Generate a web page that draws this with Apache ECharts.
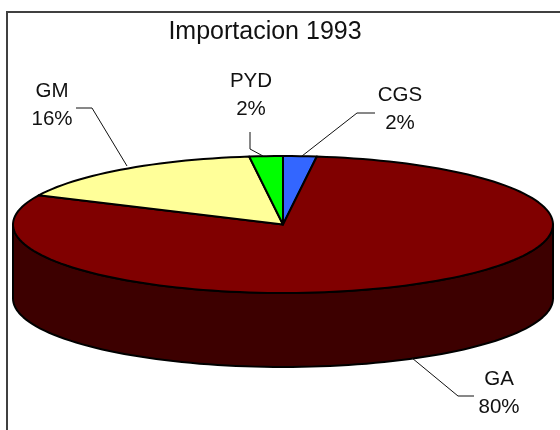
<!DOCTYPE html>
<html>
<head>
<meta charset="utf-8">
<style>html,body{margin:0;padding:0;background:#fff}#c{width:560px;height:430px}</style>
<script src="https://cdn.jsdelivr.net/npm/echarts@6/dist/echarts.min.js"></script>
</head>
<body>
<div id="c"></div>
<script>
const chartTitle = 'Importacion 1993';
const categories = ['CGS', 'GA', 'GM', 'PYD'];
const shares = [2, 80, 16, 2];

const sliceColors = ['#3366FF', '#800000', '#FFFF99', '#00FF00'];
const wallColors = ['#1A3380', '#3D0000', '#808050', '#008000'];
const labelCenters = [[400, 109.5], [499, 393], [52, 105], [251, 95.5]];
const leaderPaths = [
  [[375, 113], [357, 113], [302, 156]],
  [[474, 396], [458, 396], [412, 358]],
  [[76, 108], [92, 108], [127, 166]],
  [[250, 132], [250, 149], [263, 156]]
];
const disc = { cx: 283, cy: 224.5, rx: 270, ry: 68.5, depth: 74 };
const FONT = '"Liberation Sans", Arial, sans-serif';

const total = shares.reduce((a, b) => a + b, 0);

function rimPoint(deg, drop) {
  const r = deg * Math.PI / 180;
  return [disc.cx + disc.rx * Math.sin(r), disc.cy - disc.ry * Math.cos(r) + (drop || 0)];
}
function arcPoints(from, to, drop) {
  const pts = [];
  const n = Math.max(2, Math.ceil((to - from) / 2));
  for (let i = 0; i <= n; i++) pts.push(rimPoint(from + (to - from) * i / n, drop));
  return pts;
}

function renderSlice(params, api) {
  const i = params.dataIndex;
  let start = 0;
  for (let k = 0; k < i; k++) start += shares[k];
  const a0 = start / total * 360;
  const a1 = a0 + api.value(0) / total * 360;
  const children = [];

  const w0 = Math.max(a0, 90), w1 = Math.min(a1, 270);
  if (w1 > w0) {
    const pts = arcPoints(w0, w1, 0).concat(arcPoints(w0, w1, disc.depth).reverse());
    children.push({
      type: 'polygon', shape: { points: pts },
      style: { fill: wallColors[i], stroke: '#000', lineWidth: 2, lineJoin: 'round' }
    });
  }
  children.push({
    type: 'polygon',
    shape: { points: [[disc.cx, disc.cy]].concat(arcPoints(a0, a1, 0)) },
    style: { fill: sliceColors[i], stroke: '#000', lineWidth: 2, lineJoin: 'round' }
  });
  children.push({
    type: 'polyline', shape: { points: leaderPaths[i] },
    style: { fill: 'none', stroke: '#111', lineWidth: 1 }
  });
  children.push({
    type: 'text',
    style: {
      text: categories[i] + '\n' + api.value(0) + '%',
      x: labelCenters[i][0], y: labelCenters[i][1],
      align: 'center', verticalAlign: 'middle',
      fontFamily: 'Liberation Sans, Arial, sans-serif', fontSize: 20.5,
      lineHeight: 28, fill: '#111'
    }
  });
  return { type: 'group', children };
}

const chart = echarts.init(document.getElementById('c'), null, { renderer: 'canvas' });
chart.setOption({
  animation: false,
  backgroundColor: '#fff',
  title: {
    text: chartTitle, left: 260, top: 15, textAlign: 'center',
    textStyle: { fontFamily: FONT, fontSize: 25, fontWeight: 'normal', color: '#111' }
  },
  graphic: [{
    type: 'rect', silent: true, z: 0,
    shape: { x: 7, y: 12, width: 700, height: 600 },
    style: { fill: 'none', stroke: '#404040', lineWidth: 2 }
  }],
  series: [{
    type: 'custom', coordinateSystem: 'none', clip: false,
    data: shares.map((v, i) => ({ name: categories[i], value: [v] })),
    renderItem: renderSlice
  }]
});
</script>
</body>
</html>
